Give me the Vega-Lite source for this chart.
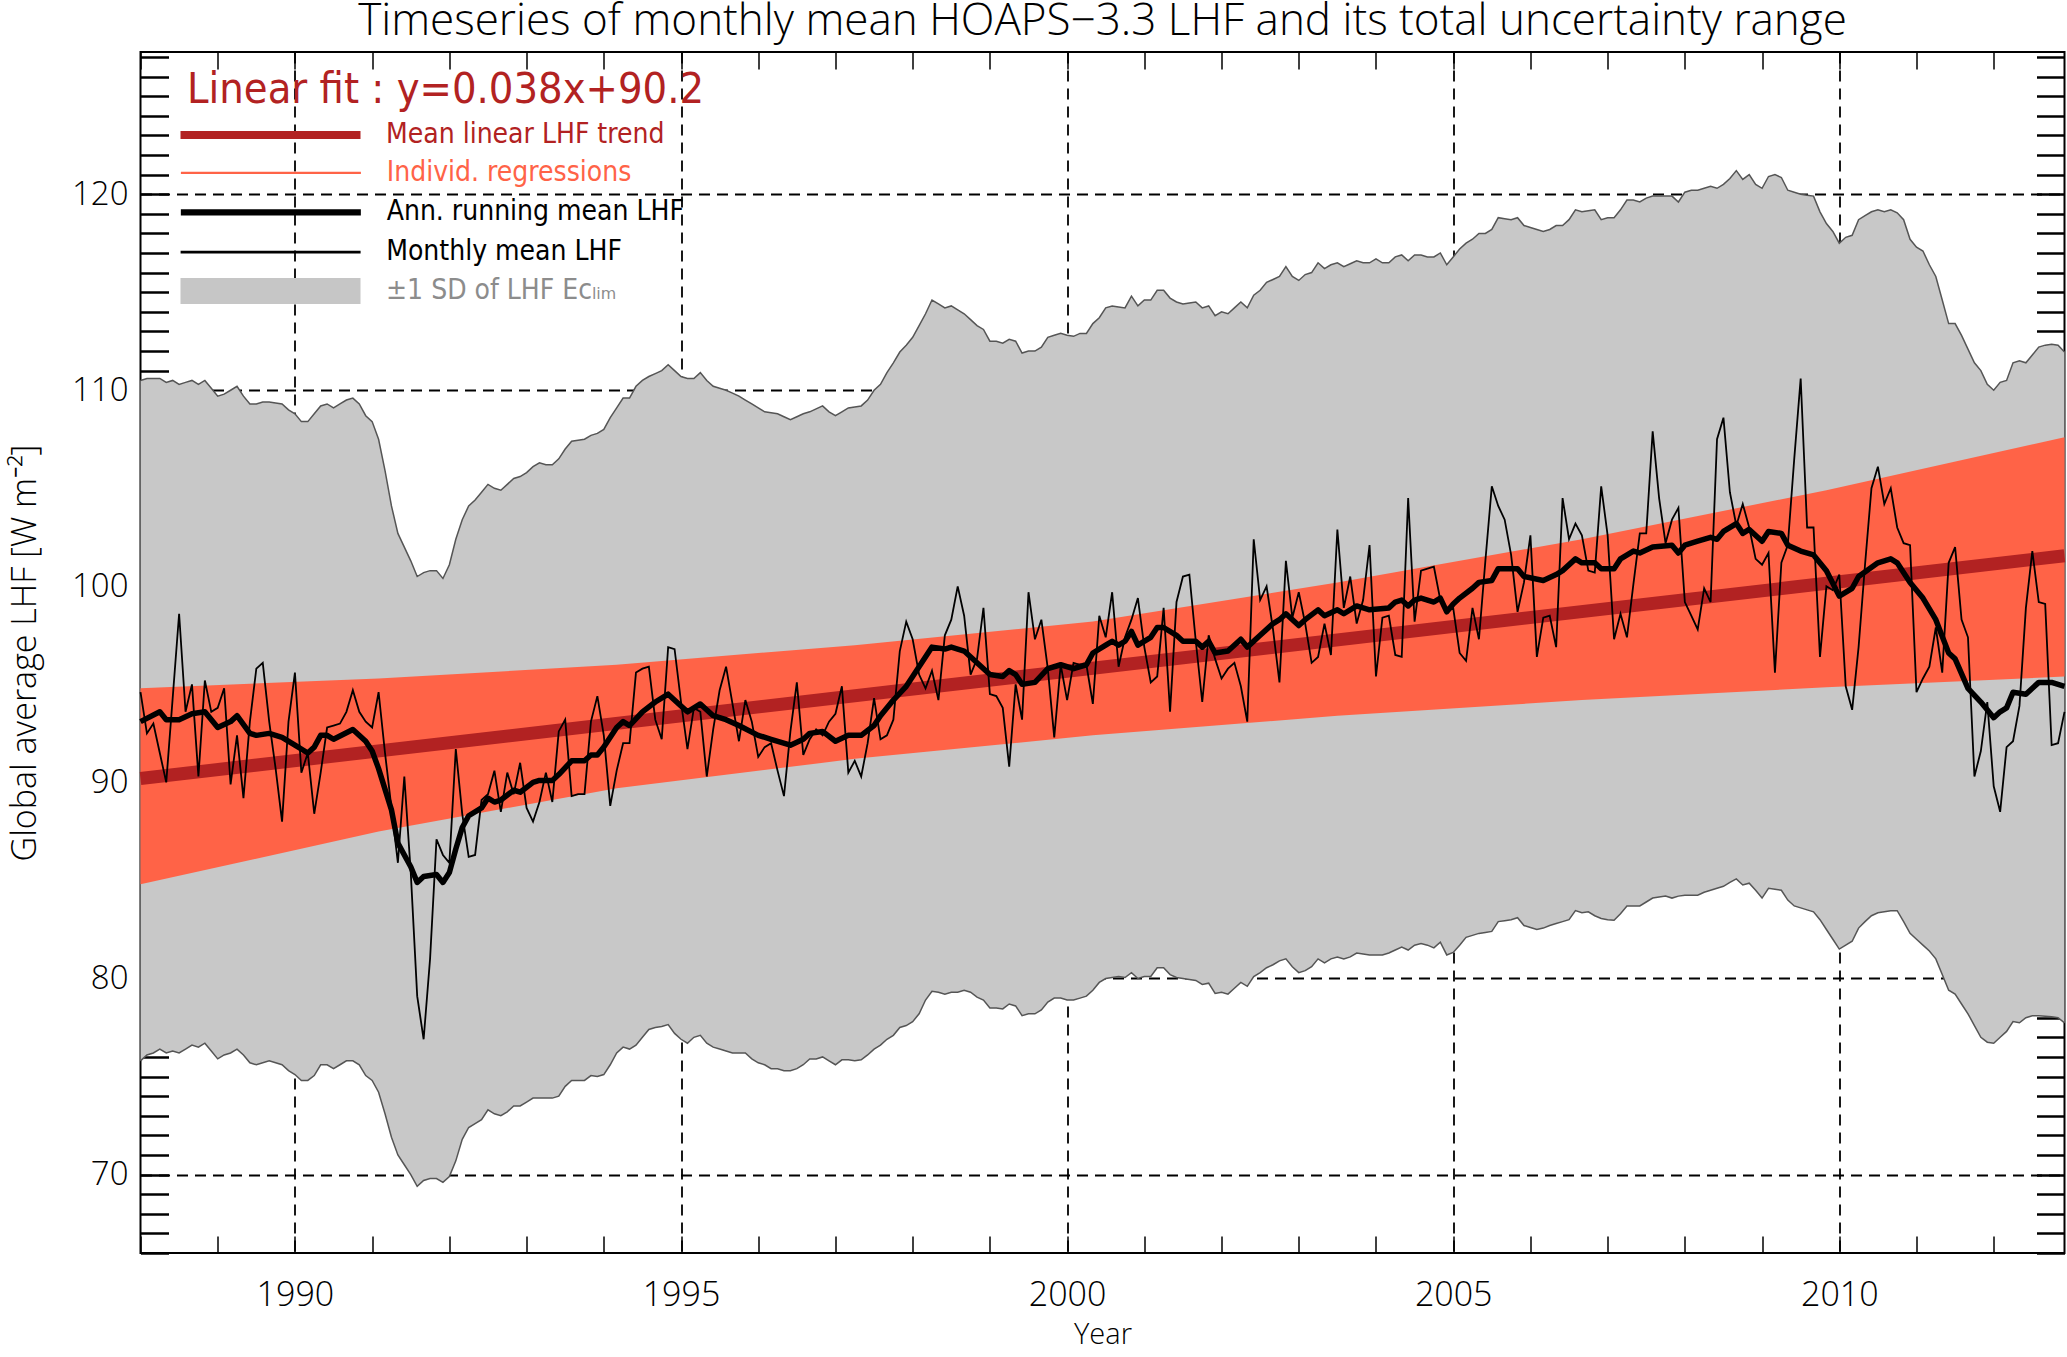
{
  "$schema": "https://vega.github.io/schema/vega-lite/v6.json",
  "width": 1924,
  "height": 1201,
  "autosize": {"type": "none"},
  "padding": {"left": 140.5, "top": 52, "right": 2.5, "bottom": 104},
  "background": "white",
  "title": {
    "text": "Timeseries of monthly mean HOAPS−3.3 LHF and its total uncertainty range",
    "font": "Open Sans",
    "fontSize": 44,
    "fontWeight": 300,
    "color": "black",
    "anchor": "middle",
    "frame": "group",
    "baseline": "top",
    "offset": -3
  },
  "config": {
    "view": {"stroke": "black", "strokeWidth": 2},
    "font": "Open Sans",
    "legend": {
      "orient": "none",
      "legendX": 46.5,
      "padding": 0,
      "title": null,
      "symbolType": "stroke",
      "symbolSize": 32400,
      "labelFont": "DejaVu Sans Condensed, Liberation Sans Narrow, Roboto",
      "labelFontSize": 28,
      "labelLimit": 2000,
      "rowPadding": 0
    }
  },
  "datasets": {
    "lhf": [
      {"i":0,"m":94.6,"lo":75.8,"hi":110.5,"r":93.1},
      {"i":1,"m":92.5,"lo":76.1,"hi":110.6},
      {"i":2,"m":93.0,"lo":76.2,"hi":110.6},
      {"i":3,"m":91.5,"lo":76.4,"hi":110.6,"r":93.6},
      {"i":4,"m":90.0,"lo":76.2,"hi":110.4,"r":93.2},
      {"i":5,"m":94.3,"lo":76.3,"hi":110.5},
      {"i":6,"m":98.6,"lo":76.2,"hi":110.3,"r":93.2},
      {"i":7,"m":93.6,"lo":76.4,"hi":110.4},
      {"i":8,"m":95.0,"lo":76.6,"hi":110.5,"r":93.5},
      {"i":9,"m":90.3,"lo":76.5,"hi":110.3},
      {"i":10,"m":95.2,"lo":76.7,"hi":110.5,"r":93.6},
      {"i":11,"m":93.6,"lo":76.3,"hi":110.1},
      {"i":12,"m":93.8,"lo":75.9,"hi":109.7,"r":92.8},
      {"i":13,"m":94.8,"lo":76.1,"hi":109.8},
      {"i":14,"m":89.9,"lo":76.2,"hi":110.0,"r":93.1},
      {"i":15,"m":92.4,"lo":76.4,"hi":110.2,"r":93.4},
      {"i":16,"m":89.2,"lo":76.1,"hi":109.7},
      {"i":17,"m":93.1,"lo":75.7,"hi":109.3,"r":92.5},
      {"i":18,"m":95.8,"lo":75.6,"hi":109.3,"r":92.4},
      {"i":19,"m":96.1,"lo":75.7,"hi":109.4},
      {"i":20,"m":93.1,"lo":75.8,"hi":109.4,"r":92.5},
      {"i":21,"m":90.7,"lo":75.7,"hi":109.35},
      {"i":22,"m":88.0,"lo":75.6,"hi":109.3,"r":92.3},
      {"i":23,"m":93.1,"lo":75.3,"hi":109.0},
      {"i":24,"m":95.6,"lo":75.1,"hi":108.8,"r":91.9},
      {"i":25,"m":90.5,"lo":74.8,"hi":108.4},
      {"i":26,"m":91.5,"lo":74.8,"hi":108.4,"r":91.5},
      {"i":27,"m":88.4,"lo":75.05,"hi":108.8,"r":91.8},
      {"i":28,"m":90.5,"lo":75.6,"hi":109.2,"r":92.4},
      {"i":29,"m":92.8,"lo":75.6,"hi":109.3,"r":92.4},
      {"i":30,"m":92.9,"lo":75.4,"hi":109.1,"r":92.2},
      {"i":31,"m":93.0,"lo":75.6,"hi":109.3},
      {"i":32,"m":93.6,"lo":75.8,"hi":109.5},
      {"i":33,"m":94.7,"lo":75.8,"hi":109.6,"r":92.7},
      {"i":34,"m":93.6,"lo":75.6,"hi":109.3},
      {"i":35,"m":93.1,"lo":75.05,"hi":108.7,"r":92.1},
      {"i":36,"m":92.8,"lo":74.8,"hi":108.4,"r":91.6},
      {"i":37,"m":94.6,"lo":74.2,"hi":107.5,"r":90.7},
      {"i":38,"m":91.5,"lo":73.1,"hi":105.9},
      {"i":39,"m":88.7,"lo":71.9,"hi":104.1,"r":88.6},
      {"i":40,"m":85.9,"lo":71.0,"hi":102.7,"r":86.9},
      {"i":41,"m":90.3,"lo":70.5,"hi":102.0},
      {"i":42,"m":85.4,"lo":70.0,"hi":101.3,"r":85.7},
      {"i":43,"m":79.1,"lo":69.4,"hi":100.5,"r":84.9},
      {"i":44,"m":76.9,"lo":69.7,"hi":100.7,"r":85.2},
      {"i":45,"m":81.0,"lo":69.8,"hi":100.8},
      {"i":46,"m":87.1,"lo":69.8,"hi":100.8,"r":85.3},
      {"i":47,"m":86.3,"lo":69.6,"hi":100.4,"r":84.9},
      {"i":48,"m":85.9,"lo":69.9,"hi":101.1,"r":85.4},
      {"i":49,"m":91.7,"lo":70.7,"hi":102.4,"r":86.6},
      {"i":50,"m":88.4,"lo":71.8,"hi":103.4,"r":87.7},
      {"i":51,"m":86.2,"lo":72.4,"hi":104.1,"r":88.3},
      {"i":52,"m":86.3,"lo":72.6,"hi":104.4},
      {"i":53,"m":89.1,"lo":72.8,"hi":104.8,"r":88.7},
      {"i":54,"m":89.4,"lo":73.3,"hi":105.2,"r":89.2},
      {"i":55,"m":90.6,"lo":73.1,"hi":105.0,"r":89.0},
      {"i":56,"m":88.5,"lo":73.0,"hi":104.9,"r":89.1},
      {"i":57,"m":90.5,"lo":73.2,"hi":105.2},
      {"i":58,"m":89.4,"lo":73.5,"hi":105.5,"r":89.6},
      {"i":59,"m":91.0,"lo":73.5,"hi":105.6,"r":89.5},
      {"i":60,"m":88.7,"lo":73.7,"hi":105.8},
      {"i":61,"m":88.0,"lo":73.9,"hi":106.1,"r":90.0},
      {"i":62,"m":89.0,"lo":73.9,"hi":106.3,"r":90.1},
      {"i":63,"m":90.5,"lo":73.9,"hi":106.2},
      {"i":64,"m":89.0,"lo":73.9,"hi":106.2,"r":90.1},
      {"i":65,"m":92.6,"lo":74.0,"hi":106.5,"r":90.4},
      {"i":66,"m":93.2,"lo":74.5,"hi":107.0},
      {"i":67,"m":89.3,"lo":74.8,"hi":107.4,"r":91.1},
      {"i":68,"m":89.4,"lo":74.8,"hi":107.45},
      {"i":69,"m":89.4,"lo":74.8,"hi":107.5,"r":91.1},
      {"i":70,"m":93.1,"lo":75.05,"hi":107.7,"r":91.4},
      {"i":71,"m":94.4,"lo":75.0,"hi":107.8,"r":91.4},
      {"i":72,"m":92.4,"lo":75.1,"hi":108.0,"r":91.8},
      {"i":73,"m":88.8,"lo":75.6,"hi":108.6},
      {"i":74,"m":90.6,"lo":76.2,"hi":109.1,"r":92.8},
      {"i":75,"m":92.0,"lo":76.5,"hi":109.6,"r":93.1},
      {"i":76,"m":92.0,"lo":76.4,"hi":109.6,"r":92.9},
      {"i":77,"m":95.6,"lo":76.6,"hi":110.2},
      {"i":78,"m":95.8,"lo":77.0,"hi":110.5,"r":93.6},
      {"i":79,"m":95.9,"lo":77.4,"hi":110.7},
      {"i":80,"m":93.2,"lo":77.5,"hi":110.85,"r":94.1},
      {"i":81,"m":92.2,"lo":77.55,"hi":111.0},
      {"i":82,"m":96.9,"lo":77.65,"hi":111.3,"r":94.5},
      {"i":83,"m":96.8,"lo":77.2,"hi":111.0},
      {"i":84,"m":94.1,"lo":76.9,"hi":110.7,"r":93.9},
      {"i":85,"m":91.7,"lo":76.7,"hi":110.6,"r":93.6},
      {"i":86,"m":93.8,"lo":77.0,"hi":110.6},
      {"i":87,"m":93.6,"lo":77.1,"hi":110.9,"r":94.0},
      {"i":88,"m":90.3,"lo":76.7,"hi":110.5},
      {"i":89,"m":92.7,"lo":76.5,"hi":110.2,"r":93.4},
      {"i":90,"m":94.7,"lo":76.4,"hi":110.1},
      {"i":91,"m":95.9,"lo":76.3,"hi":110.0,"r":93.2},
      {"i":92,"m":94.0,"lo":76.2,"hi":109.85},
      {"i":93,"m":92.1,"lo":76.2,"hi":109.7,"r":92.9},
      {"i":94,"m":94.2,"lo":76.2,"hi":109.5},
      {"i":95,"m":93.1,"lo":75.9,"hi":109.3},
      {"i":96,"m":91.3,"lo":75.7,"hi":109.1,"r":92.4},
      {"i":97,"m":91.8,"lo":75.6,"hi":108.9},
      {"i":98,"m":92.0,"lo":75.4,"hi":108.85,"r":92.2},
      {"i":99,"m":90.6,"lo":75.4,"hi":108.8},
      {"i":100,"m":89.3,"lo":75.3,"hi":108.65},
      {"i":101,"m":92.6,"lo":75.3,"hi":108.5,"r":91.9},
      {"i":102,"m":95.1,"lo":75.4,"hi":108.65},
      {"i":103,"m":91.4,"lo":75.6,"hi":108.8,"r":92.2},
      {"i":104,"m":92.2,"lo":75.9,"hi":108.9,"r":92.5},
      {"i":105,"m":92.7,"lo":75.9,"hi":109.05},
      {"i":106,"m":92.4,"lo":76.0,"hi":109.2,"r":92.6},
      {"i":107,"m":93.1,"lo":75.8,"hi":108.9},
      {"i":108,"m":93.5,"lo":75.6,"hi":108.7,"r":92.1},
      {"i":109,"m":94.9,"lo":75.85,"hi":108.9},
      {"i":110,"m":90.5,"lo":75.85,"hi":109.1,"r":92.4},
      {"i":111,"m":91.1,"lo":75.8,"hi":109.15},
      {"i":112,"m":90.3,"lo":75.85,"hi":109.2,"r":92.4},
      {"i":113,"m":92.0,"lo":76.1,"hi":109.5},
      {"i":114,"m":94.3,"lo":76.4,"hi":110.0,"r":92.9},
      {"i":115,"m":92.2,"lo":76.6,"hi":110.3,"r":93.4},
      {"i":116,"m":92.4,"lo":76.9,"hi":110.9},
      {"i":117,"m":93.2,"lo":77.1,"hi":111.4,"r":94.2},
      {"i":118,"m":96.7,"lo":77.5,"hi":111.95},
      {"i":119,"m":98.2,"lo":77.6,"hi":112.3,"r":94.9},
      {"i":120,"m":97.3,"lo":77.8,"hi":112.7,"r":95.4},
      {"i":121,"m":95.5,"lo":78.2,"hi":113.3},
      {"i":122,"m":94.8,"lo":78.9,"hi":113.9},
      {"i":123,"m":95.7,"lo":79.35,"hi":114.6,"r":96.9},
      {"i":124,"m":94.2,"lo":79.3,"hi":114.4},
      {"i":125,"m":97.5,"lo":79.2,"hi":114.2,"r":96.8},
      {"i":126,"m":98.3,"lo":79.3,"hi":114.3,"r":96.9},
      {"i":127,"m":100.0,"lo":79.3,"hi":114.1},
      {"i":128,"m":98.5,"lo":79.4,"hi":113.9,"r":96.7},
      {"i":129,"m":95.5,"lo":79.3,"hi":113.6},
      {"i":130,"m":96.3,"lo":79.05,"hi":113.3,"r":96.1},
      {"i":131,"m":98.9,"lo":78.9,"hi":113.1},
      {"i":132,"m":94.5,"lo":78.5,"hi":112.5,"r":95.5},
      {"i":133,"m":94.4,"lo":78.5,"hi":112.5},
      {"i":134,"m":93.8,"lo":78.45,"hi":112.4,"r":95.4},
      {"i":135,"m":90.8,"lo":78.7,"hi":112.6,"r":95.7},
      {"i":136,"m":95.0,"lo":78.6,"hi":112.5,"r":95.5},
      {"i":137,"m":93.2,"lo":78.1,"hi":111.9,"r":95.0},
      {"i":138,"m":99.7,"lo":78.2,"hi":112.0},
      {"i":139,"m":97.3,"lo":78.2,"hi":112.0,"r":95.1},
      {"i":140,"m":98.3,"lo":78.4,"hi":112.2},
      {"i":141,"m":95.8,"lo":78.8,"hi":112.7,"r":95.8},
      {"i":142,"m":92.3,"lo":79.0,"hi":112.8},
      {"i":143,"m":96.0,"lo":79.0,"hi":112.9,"r":96.0},
      {"i":144,"m":94.2,"lo":78.9,"hi":112.8},
      {"i":145,"m":96.1,"lo":78.9,"hi":112.75,"r":95.8},
      {"i":146,"m":96.0,"lo":79.0,"hi":112.9},
      {"i":147,"m":96.0,"lo":79.1,"hi":112.9,"r":96.0},
      {"i":148,"m":94.0,"lo":79.4,"hi":113.4,"r":96.6},
      {"i":149,"m":98.5,"lo":79.8,"hi":113.7},
      {"i":150,"m":97.4,"lo":80.0,"hi":114.2,"r":97.0},
      {"i":151,"m":99.7,"lo":80.05,"hi":114.3,"r":97.2},
      {"i":152,"m":95.9,"lo":80.1,"hi":114.25,"r":97.0},
      {"i":153,"m":97.4,"lo":80.05,"hi":114.2,"r":97.2},
      {"i":154,"m":98.3,"lo":80.3,"hi":114.8,"r":97.7},
      {"i":155,"m":99.4,"lo":80.0,"hi":114.3,"r":97.0},
      {"i":156,"m":96.9,"lo":80.1,"hi":114.6},
      {"i":157,"m":95.1,"lo":80.1,"hi":114.6,"r":97.4},
      {"i":158,"m":95.4,"lo":80.55,"hi":115.1,"r":97.9},
      {"i":159,"m":98.9,"lo":80.55,"hi":115.1,"r":97.9},
      {"i":160,"m":93.6,"lo":80.2,"hi":114.7},
      {"i":161,"m":99.2,"lo":80.05,"hi":114.5,"r":97.5},
      {"i":162,"m":100.5,"lo":80.0,"hi":114.4,"r":97.2},
      {"i":163,"m":100.6,"lo":79.95,"hi":114.45},
      {"i":164,"m":97.2,"lo":79.9,"hi":114.5,"r":97.2},
      {"i":165,"m":94.1,"lo":79.7,"hi":114.2,"r":96.9},
      {"i":166,"m":97.5,"lo":79.76,"hi":114.3,"r":97.2},
      {"i":167,"m":96.3,"lo":79.24,"hi":113.8,"r":96.6},
      {"i":168,"m":95.3,"lo":79.3,"hi":114.0},
      {"i":169,"m":95.8,"lo":79.2,"hi":113.9,"r":96.7},
      {"i":170,"m":96.1,"lo":79.5,"hi":114.2},
      {"i":171,"m":94.9,"lo":79.8,"hi":114.5,"r":97.3},
      {"i":172,"m":93.1,"lo":79.6,"hi":114.2,"r":96.9},
      {"i":173,"m":102.4,"lo":80.1,"hi":114.85},
      {"i":174,"m":99.3,"lo":80.3,"hi":115.1,"r":97.5},
      {"i":175,"m":100.0,"lo":80.55,"hi":115.5},
      {"i":176,"m":97.8,"lo":80.7,"hi":115.65,"r":98.1},
      {"i":177,"m":95.1,"lo":80.9,"hi":115.8,"r":98.3},
      {"i":178,"m":101.3,"lo":81.0,"hi":116.3,"r":98.6},
      {"i":179,"m":98.4,"lo":80.6,"hi":115.8},
      {"i":180,"m":99.7,"lo":80.3,"hi":115.6,"r":98.0},
      {"i":181,"m":98.1,"lo":80.4,"hi":115.9,"r":98.3},
      {"i":182,"m":96.1,"lo":80.6,"hi":116.0},
      {"i":183,"m":96.4,"lo":81.0,"hi":116.5,"r":98.8},
      {"i":184,"m":98.1,"lo":80.8,"hi":116.2,"r":98.5},
      {"i":185,"m":96.5,"lo":81.0,"hi":116.4},
      {"i":186,"m":102.9,"lo":81.1,"hi":116.5,"r":98.8},
      {"i":187,"m":98.9,"lo":81.0,"hi":116.3,"r":98.6},
      {"i":188,"m":100.5,"lo":81.1,"hi":116.45},
      {"i":189,"m":98.1,"lo":81.3,"hi":116.6,"r":99.0},
      {"i":190,"m":99.3,"lo":81.25,"hi":116.5},
      {"i":191,"m":102.1,"lo":81.2,"hi":116.5,"r":98.8},
      {"i":192,"m":95.4,"lo":81.2,"hi":116.7},
      {"i":193,"m":98.4,"lo":81.2,"hi":116.5},
      {"i":194,"m":98.5,"lo":81.3,"hi":116.5,"r":98.9},
      {"i":195,"m":96.5,"lo":81.45,"hi":116.8,"r":99.2},
      {"i":196,"m":96.4,"lo":81.6,"hi":116.9,"r":99.3},
      {"i":197,"m":104.5,"lo":81.45,"hi":116.6,"r":99.0},
      {"i":198,"m":98.2,"lo":81.7,"hi":116.9,"r":99.3},
      {"i":199,"m":100.8,"lo":81.78,"hi":116.9,"r":99.4},
      {"i":200,"m":100.9,"lo":81.7,"hi":116.8},
      {"i":201,"m":101.0,"lo":81.56,"hi":116.8,"r":99.2},
      {"i":202,"m":99.3,"lo":81.85,"hi":117.0,"r":99.4},
      {"i":203,"m":98.7,"lo":81.2,"hi":116.4,"r":98.7},
      {"i":204,"m":98.9,"lo":81.33,"hi":116.8,"r":99.1},
      {"i":205,"m":96.6,"lo":81.7,"hi":117.2,"r":99.4},
      {"i":206,"m":96.2,"lo":82.1,"hi":117.5},
      {"i":207,"m":98.9,"lo":82.2,"hi":117.7,"r":99.9},
      {"i":208,"m":97.3,"lo":82.3,"hi":118.0,"r":100.2},
      {"i":209,"m":101.3,"lo":82.35,"hi":118.0},
      {"i":210,"m":105.1,"lo":82.4,"hi":118.2,"r":100.3},
      {"i":211,"m":104.1,"lo":82.9,"hi":118.8,"r":100.9},
      {"i":212,"m":103.4,"lo":82.95,"hi":118.75},
      {"i":213,"m":101.6,"lo":83.0,"hi":118.7},
      {"i":214,"m":98.7,"lo":83.1,"hi":118.8,"r":100.9},
      {"i":215,"m":100.2,"lo":82.7,"hi":118.4,"r":100.5},
      {"i":216,"m":102.6,"lo":82.6,"hi":118.3},
      {"i":217,"m":96.4,"lo":82.5,"hi":118.2},
      {"i":218,"m":98.4,"lo":82.57,"hi":118.1,"r":100.3},
      {"i":219,"m":98.5,"lo":82.7,"hi":118.2},
      {"i":220,"m":96.9,"lo":82.8,"hi":118.4,"r":100.6},
      {"i":221,"m":104.5,"lo":82.9,"hi":118.4,"r":100.8},
      {"i":222,"m":102.4,"lo":83.0,"hi":118.7},
      {"i":223,"m":103.2,"lo":83.46,"hi":119.2,"r":101.4},
      {"i":224,"m":102.6,"lo":83.35,"hi":119.1,"r":101.2},
      {"i":225,"m":100.8,"lo":83.4,"hi":119.15},
      {"i":226,"m":100.7,"lo":83.2,"hi":119.2,"r":101.2},
      {"i":227,"m":105.1,"lo":83.06,"hi":118.7,"r":100.9},
      {"i":228,"m":102.6,"lo":83.0,"hi":118.8},
      {"i":229,"m":97.3,"lo":82.97,"hi":118.8,"r":100.9},
      {"i":230,"m":98.6,"lo":83.3,"hi":119.2,"r":101.4},
      {"i":231,"m":97.4,"lo":83.7,"hi":119.7},
      {"i":232,"m":100.1,"lo":83.7,"hi":119.7,"r":101.8},
      {"i":233,"m":102.7,"lo":83.7,"hi":119.6,"r":101.7},
      {"i":234,"m":102.7,"lo":83.9,"hi":119.8},
      {"i":235,"m":107.9,"lo":84.1,"hi":119.9,"r":102.0},
      {"i":236,"m":104.5,"lo":84.15,"hi":119.9},
      {"i":237,"m":102.2,"lo":84.2,"hi":119.9},
      {"i":238,"m":103.4,"lo":84.1,"hi":119.9,"r":102.1},
      {"i":239,"m":104.0,"lo":84.2,"hi":119.6,"r":101.7},
      {"i":240,"m":99.2,"lo":84.25,"hi":120.1,"r":102.1},
      {"i":241,"m":98.5,"lo":84.25,"hi":120.2},
      {"i":242,"m":97.8,"lo":84.25,"hi":120.2,"r":102.3},
      {"i":243,"m":99.9,"lo":84.4,"hi":120.3},
      {"i":244,"m":99.2,"lo":84.5,"hi":120.4,"r":102.5},
      {"i":245,"m":107.5,"lo":84.6,"hi":120.3,"r":102.4},
      {"i":246,"m":108.6,"lo":84.7,"hi":120.5,"r":102.8},
      {"i":247,"m":104.8,"lo":84.9,"hi":120.8},
      {"i":248,"m":103.1,"lo":85.08,"hi":121.2,"r":103.2},
      {"i":249,"m":104.2,"lo":84.77,"hi":120.75,"r":102.7},
      {"i":250,"m":103.0,"lo":84.86,"hi":121.0,"r":102.9},
      {"i":251,"m":101.4,"lo":84.5,"hi":120.5},
      {"i":252,"m":101.1,"lo":84.1,"hi":120.3,"r":102.3},
      {"i":253,"m":101.7,"lo":84.6,"hi":120.9,"r":102.8},
      {"i":254,"m":95.6,"lo":84.55,"hi":121.0},
      {"i":255,"m":101.2,"lo":84.5,"hi":120.85,"r":102.7},
      {"i":256,"m":102.1,"lo":84.0,"hi":120.2,"r":102.1},
      {"i":257,"m":106.5,"lo":83.7,"hi":120.1},
      {"i":258,"m":110.6,"lo":83.6,"hi":120.0,"r":101.8},
      {"i":259,"m":103.0,"lo":83.5,"hi":119.95},
      {"i":260,"m":103.0,"lo":83.4,"hi":119.9,"r":101.6},
      {"i":261,"m":96.4,"lo":83.0,"hi":119.1},
      {"i":262,"m":100.0,"lo":82.5,"hi":118.5,"r":100.8},
      {"i":263,"m":99.8,"lo":82.0,"hi":118.1},
      {"i":264,"m":100.6,"lo":81.5,"hi":117.5,"r":99.5},
      {"i":265,"m":94.9,"lo":81.7,"hi":117.8},
      {"i":266,"m":93.7,"lo":81.9,"hi":117.9,"r":99.9},
      {"i":267,"m":96.9,"lo":82.57,"hi":118.7,"r":100.5},
      {"i":268,"m":101.1,"lo":82.9,"hi":118.9},
      {"i":269,"m":105.0,"lo":83.2,"hi":119.1},
      {"i":270,"m":106.1,"lo":83.35,"hi":119.2,"r":101.2},
      {"i":271,"m":104.2,"lo":83.4,"hi":119.1},
      {"i":272,"m":105.0,"lo":83.45,"hi":119.2,"r":101.4},
      {"i":273,"m":103.0,"lo":83.46,"hi":119.05,"r":101.2},
      {"i":274,"m":102.2,"lo":82.9,"hi":118.7},
      {"i":275,"m":102.1,"lo":82.3,"hi":117.7,"r":100.2},
      {"i":276,"m":94.6,"lo":82.0,"hi":117.3},
      {"i":277,"m":95.3,"lo":81.7,"hi":117.1,"r":99.4},
      {"i":278,"m":95.9,"lo":81.4,"hi":116.4},
      {"i":279,"m":97.9,"lo":81.0,"hi":115.8,"r":98.3},
      {"i":280,"m":95.6,"lo":80.2,"hi":114.6},
      {"i":281,"m":101.2,"lo":79.4,"hi":113.4,"r":96.6},
      {"i":282,"m":102.0,"lo":79.2,"hi":113.4,"r":96.3},
      {"i":283,"m":98.3,"lo":78.7,"hi":112.8},
      {"i":284,"m":97.4,"lo":78.2,"hi":112.1,"r":94.8},
      {"i":285,"m":90.3,"lo":77.6,"hi":111.4},
      {"i":286,"m":91.6,"lo":77.0,"hi":111.0,"r":94.1},
      {"i":287,"m":94.1,"lo":76.75,"hi":110.3},
      {"i":288,"m":89.8,"lo":76.7,"hi":110.0,"r":93.3},
      {"i":289,"m":88.5,"lo":77.0,"hi":110.4,"r":93.6},
      {"i":290,"m":91.8,"lo":77.3,"hi":110.5,"r":93.8},
      {"i":291,"m":92.1,"lo":77.8,"hi":111.4,"r":94.6},
      {"i":292,"m":93.9,"lo":77.74,"hi":111.5},
      {"i":293,"m":98.9,"lo":78.0,"hi":111.4,"r":94.5},
      {"i":294,"m":101.8,"lo":78.1,"hi":111.8},
      {"i":295,"m":99.2,"lo":78.1,"hi":112.2,"r":95.1},
      {"i":296,"m":99.1,"lo":78.08,"hi":112.3},
      {"i":297,"m":91.9,"lo":78.05,"hi":112.35,"r":95.1},
      {"i":298,"m":92.0,"lo":78.0,"hi":112.3},
      {"i":299,"m":93.6,"lo":77.74,"hi":111.95,"r":94.9}
    ],
    "fan": [
      {"i":0,"lo":84.8,"hi":94.8},
      {"i":37,"lo":87.5,"hi":95.3},
      {"i":74,"lo":89.7,"hi":96.0},
      {"i":111,"lo":91.2,"hi":97.0},
      {"i":148,"lo":92.4,"hi":98.2},
      {"i":186,"lo":93.4,"hi":100.2},
      {"i":224,"lo":94.2,"hi":102.4},
      {"i":262,"lo":94.85,"hi":104.9},
      {"i":299,"lo":95.4,"hi":107.6}
    ],
    "trend": [
      {"i":0,"v":90.2},
      {"i":299,"v":101.56}
    ]
  },
  "resolve": {
    "axis": {"x": "independent", "y": "independent"},
    "scale": {"color": "independent"},
    "legend": {"color": "independent"}
  },
  "layer": [
    {
      "data": {"name": "lhf"},
      "mark": {"type": "area"},
      "encoding": {
        "x": {
          "field": "i",
          "type": "quantitative",
          "scale": {"domain": [0, 299], "nice": false, "zero": false},
          "axis": {
            "orient": "bottom",
            "values": [0, 12, 24, 36, 48, 60, 72, 84, 96, 108, 120, 132, 144, 156, 168, 180, 192, 204, 216, 228, 240, 252, 264, 276, 288],
            "labelExpr": "datum.value % 60 === 24 ? '' + (1988 + datum.value / 12) : ''",
            "labelOverlap": false,
            "labelFlush": false,
            "labelFont": "Open Sans",
            "labelFontSize": 34,
            "labelFontWeight": 300,
            "labelColor": "black",
            "labelPadding": 69,
            "labelBaseline": "alphabetic",
            "tickSize": -17,
            "tickWidth": 1.5,
            "tickColor": "black",
            "domain": false,
            "grid": true,
            "gridColor": "black",
            "gridWidth": 1.8,
            "gridDash": [11, 7],
            "gridOpacity": {"condition": {"test": "datum.value % 60 === 24", "value": 1}, "value": 0},
            "title": "Year",
            "titleFont": "Open Sans",
            "titleFontSize": 29,
            "titleFontWeight": 300,
            "titleColor": "black",
            "titleY": 90,
            "titleBaseline": "alphabetic",
            "zindex": 0
          }
        },
        "y": {
          "field": "lo",
          "type": "quantitative",
          "scale": {"domain": [66, 127.25], "nice": false, "zero": false},
          "axis": {
            "orient": "left",
            "values": [66, 67, 68, 69, 70, 71, 72, 73, 74, 75, 76, 77, 78, 79, 80, 81, 82, 83, 84, 85, 86, 87, 88, 89, 90, 91, 92, 93, 94, 95, 96, 97, 98, 99, 100, 101, 102, 103, 104, 105, 106, 107, 108, 109, 110, 111, 112, 113, 114, 115, 116, 117, 118, 119, 120, 121, 122, 123, 124, 125, 126, 127],
            "labelExpr": "datum.value % 10 === 0 ? datum.label : ''",
            "labelOverlap": false,
            "labelFlush": false,
            "labelFont": "Open Sans",
            "labelFontSize": 33,
            "labelFontWeight": 300,
            "labelColor": "black",
            "labelPadding": 40.5,
            "labelBaseline": "middle",
            "tickSize": -28,
            "tickWidth": 2.5,
            "tickColor": "black",
            "domain": false,
            "grid": true,
            "gridColor": "black",
            "gridWidth": 1.8,
            "gridDash": [11, 7],
            "gridOpacity": {"condition": {"test": "datum.value % 10 === 0", "value": 1}, "value": 0},
            "title": "Global average LHF [W m⁻²]",
            "titleFont": "Open Sans",
            "titleFontSize": 34,
            "titleFontWeight": 300,
            "titleColor": "black",
            "titleX": -115,
            "titleBaseline": "middle",
            "zindex": 0
          }
        },
        "y2": {"field": "hi"},
        "color": {
          "datum": "±1  SD of LHF Eᴄₗᵢₘ",
          "type": "nominal",
          "scale": {"domain": ["±1  SD of LHF Eᴄₗᵢₘ"], "range": ["#C8C8C8"]},
          "legend": {
            "legendY": 136,
            "symbolOffset": -19.5,
            "labelOffset": 12.5,
            "symbolStrokeColor": "#C6C6C6",
            "symbolStrokeWidth": 26,
            "labelColor": "#8C8C8C"
          }
        }
      }
    },
    {
      "data": {"name": "lhf"},
      "mark": {"type": "line", "color": "#555555", "strokeWidth": 1.5},
      "encoding": {
        "x": {
          "field": "i",
          "type": "quantitative",
          "axis": {
            "orient": "top",
            "values": [0, 12, 24, 36, 48, 60, 72, 84, 96, 108, 120, 132, 144, 156, 168, 180, 192, 204, 216, 228, 240, 252, 264, 276, 288],
            "labels": false,
            "tickSize": -17,
            "tickWidth": 1.5,
            "tickColor": "black",
            "domain": false,
            "grid": false,
            "title": null,
            "zindex": 0
          }
        },
        "y": {
          "field": "hi",
          "type": "quantitative",
          "axis": {
            "orient": "right",
            "values": [66, 67, 68, 69, 70, 71, 72, 73, 74, 75, 76, 77, 78, 79, 80, 81, 82, 83, 84, 85, 86, 87, 88, 89, 90, 91, 92, 93, 94, 95, 96, 97, 98, 99, 100, 101, 102, 103, 104, 105, 106, 107, 108, 109, 110, 111, 112, 113, 114, 115, 116, 117, 118, 119, 120, 121, 122, 123, 124, 125, 126, 127],
            "labels": false,
            "tickSize": -28,
            "tickWidth": 2.5,
            "tickColor": "black",
            "domain": false,
            "grid": false,
            "title": null,
            "zindex": 0
          }
        }
      }
    },
    {
      "data": {"name": "lhf"},
      "mark": {"type": "line", "color": "#555555", "strokeWidth": 1.5},
      "encoding": {
        "x": {"field": "i", "type": "quantitative", "axis": null},
        "y": {"field": "lo", "type": "quantitative", "axis": null}
      }
    },
    {
      "data": {"name": "fan"},
      "mark": {"type": "area"},
      "encoding": {
        "x": {"field": "i", "type": "quantitative", "axis": null},
        "y": {"field": "lo", "type": "quantitative", "axis": null},
        "y2": {"field": "hi"},
        "color": {
          "datum": "Individ. regressions",
          "type": "nominal",
          "scale": {"domain": ["Individ. regressions"], "range": ["#FF6347"]},
          "legend": {
            "legendY": 29.4,
            "symbolOffset": -7.6,
            "labelOffset": 24.4,
            "symbolStrokeColor": "#FF6347",
            "symbolStrokeWidth": 2.2,
            "labelColor": "#FF6347"
          }
        }
      }
    },
    {
      "data": {"name": "trend"},
      "mark": {"type": "line", "strokeWidth": 13, "strokeCap": "butt"},
      "encoding": {
        "x": {"field": "i", "type": "quantitative", "axis": null},
        "y": {"field": "v", "type": "quantitative", "axis": null},
        "color": {
          "datum": "Mean linear LHF  trend",
          "type": "nominal",
          "scale": {"domain": ["Mean linear LHF  trend"], "range": ["#B22222"]},
          "legend": {
            "legendY": 17,
            "title": "Linear fit :  y=0.038x+90.2",
            "titleFont": "DejaVu Sans Condensed, Liberation Sans Narrow, Roboto",
            "titleFontSize": 43,
            "titleFontWeight": "normal",
            "titleColor": "#B22222",
            "titlePadding": -71,
            "titleLimit": 2000,
            "symbolOffset": -10.5,
            "labelOffset": 21.5,
            "symbolStrokeColor": "#B22222",
            "symbolStrokeWidth": 8,
            "labelColor": "#B22222"
          }
        }
      }
    },
    {
      "data": {"name": "lhf"},
      "mark": {"type": "line", "strokeWidth": 1.8},
      "encoding": {
        "x": {"field": "i", "type": "quantitative", "axis": null},
        "y": {"field": "m", "type": "quantitative", "axis": null},
        "color": {
          "datum": "Monthly mean LHF",
          "type": "nominal",
          "scale": {"domain": ["Monthly mean LHF"], "range": ["black"]},
          "legend": {
            "legendY": 108.6,
            "symbolOffset": -7.9,
            "labelOffset": 24.1,
            "symbolStrokeColor": "black",
            "symbolStrokeWidth": 2.8,
            "labelColor": "black"
          }
        }
      }
    },
    {
      "data": {"name": "lhf"},
      "transform": [{"filter": "isValid(datum.r)"}],
      "mark": {"type": "line", "strokeWidth": 5.5, "strokeJoin": "round"},
      "encoding": {
        "x": {"field": "i", "type": "quantitative", "axis": null},
        "y": {"field": "r", "type": "quantitative", "axis": null},
        "color": {
          "datum": "Ann. running mean LHF",
          "type": "nominal",
          "scale": {"domain": ["Ann. running mean LHF"], "range": ["black"]},
          "legend": {
            "legendY": 66.85,
            "symbolOffset": -9.65,
            "labelOffset": 22.35,
            "symbolStrokeColor": "black",
            "symbolStrokeWidth": 6.3,
            "labelColor": "black"
          }
        }
      }
    }
  ]
}
